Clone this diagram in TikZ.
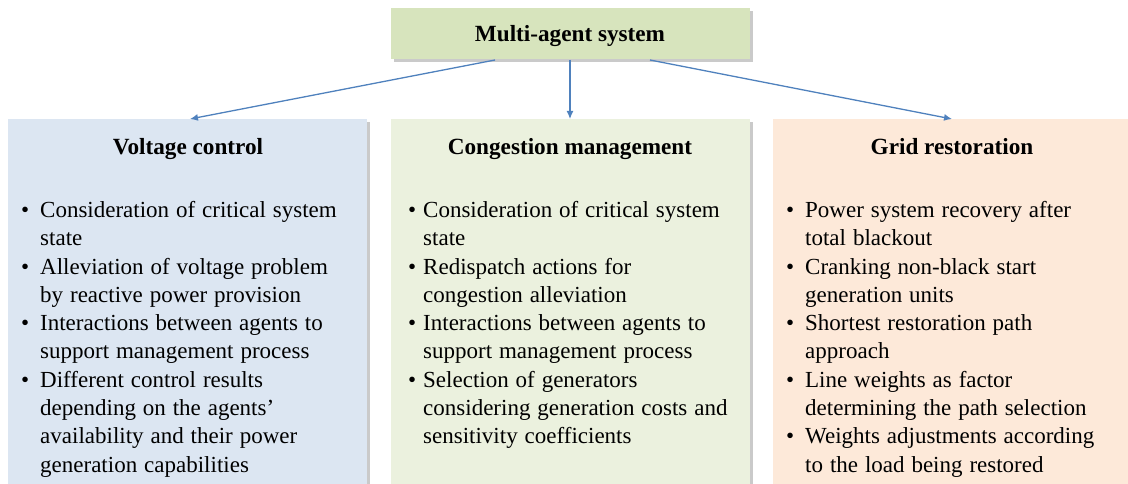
\documentclass[tikz,border=0pt]{standalone}
\usepackage{fontspec}
\setmainfont{Liberation Serif}
\usetikzlibrary{arrows.meta,shadows}

\definecolor{topfill}{HTML}{D7E4BD}
\definecolor{bluefill}{HTML}{DCE6F2}
\definecolor{greenfill}{HTML}{EBF1DE}
\definecolor{peachfill}{HTML}{FDE9D9}
\definecolor{linkblue}{HTML}{4F81BD}

% one bullet point with a hanging indent; \nl breaks a line inside it
\newlength{\bindent}
\setlength{\bindent}{18pt}
\newcommand{\bitem}[1]{\par\noindent\hangindent=\bindent\hangafter=1\makebox[\bindent][l]{\textbullet}#1\par}
\newcommand{\nl}{\hfil\break}
\newcommand{\listsetup}{\raggedright\spaceskip=0.3em plus 0.2em minus 0.05em\relax}

\tikzset{
  panel/.style={rectangle, inner sep=0pt, anchor=north west, draw=none,
    drop shadow={shadow xshift=2.5pt, shadow yshift=-2.5pt, opacity=0.35, fill=black!60}},
  heading/.style={font=\fontsize{23.2}{27}\selectfont\bfseries, inner sep=0pt, anchor=base},
  bullets/.style={inner sep=0pt, anchor=north west, text width=#1,
    font=\fontsize{23}{28.3}\selectfont, execute at begin node=\listsetup},
  link/.style={draw=linkblue, line width=1.3pt, -{Latex[length=8pt,width=7pt]}}
}

\begin{document}
\begin{tikzpicture}[x=1pt,y=-1pt]
\useasboundingbox (0,0) rectangle (1128,484);

% boxes
\node[panel, fill=topfill, minimum width=359pt, minimum height=51pt] (mas) at (391,8) {};
\node[heading] (mastext) at (570,42) {Multi-agent system};

\node[panel, fill=bluefill, minimum width=359pt, minimum height=366pt] (vc) at (8,119) {};
\node[panel, fill=greenfill, minimum width=359pt, minimum height=366pt] (cm) at (391,119) {};
\node[panel, fill=peachfill, minimum width=356pt, minimum height=366pt] (gr) at (773,119) {};

% headings
\node[heading] (vct) at (188,155) {Voltage control};
\node[heading] (cmt) at (570,155) {Congestion management};
\node[heading] (grt) at (952,155) {Grid restoration};

% bullet lists
\node[bullets=342pt] (vcl) at (21,189) {%
\setlength{\bindent}{19pt}%
\bitem{Consideration of critical system\nl state}
\bitem{Alleviation of voltage problem\nl by reactive power provision}
\bitem{Interactions between agents to\nl support management process}
\bitem{Different control results\nl depending on the agents’\nl availability and their power\nl generation capabilities}};

\node[bullets=338pt] (cml) at (408,189) {%
\setlength{\bindent}{15pt}%
\bitem{Consideration of critical system\nl state}
\bitem{Redispatch actions for\nl congestion alleviation}
\bitem{Interactions between agents to\nl support management process}
\bitem{Selection of generators\nl considering generation costs and\nl sensitivity coefficients}};

\node[bullets=338pt] (grl) at (786,189) {%
\setlength{\bindent}{19pt}%
\bitem{Power system recovery after\nl total blackout}
\bitem{Cranking non-black start\nl generation units}
\bitem{Shortest restoration path\nl approach}
\bitem{Line weights as factor\nl determining the path selection}
\bitem{Weights adjustments according\nl to the load being restored}};

% connectors
\coordinate (s1) at (495,60);
\coordinate (s2) at (570,60);
\coordinate (s3) at (650,60);
\draw[link] (s1) -- (vc.north -| 190,0);
\draw[link] (s2) -- (cm.north -| 570,0);
\draw[link] (s3) -- (gr.north -| 952,0);
\end{tikzpicture}
\end{document}
